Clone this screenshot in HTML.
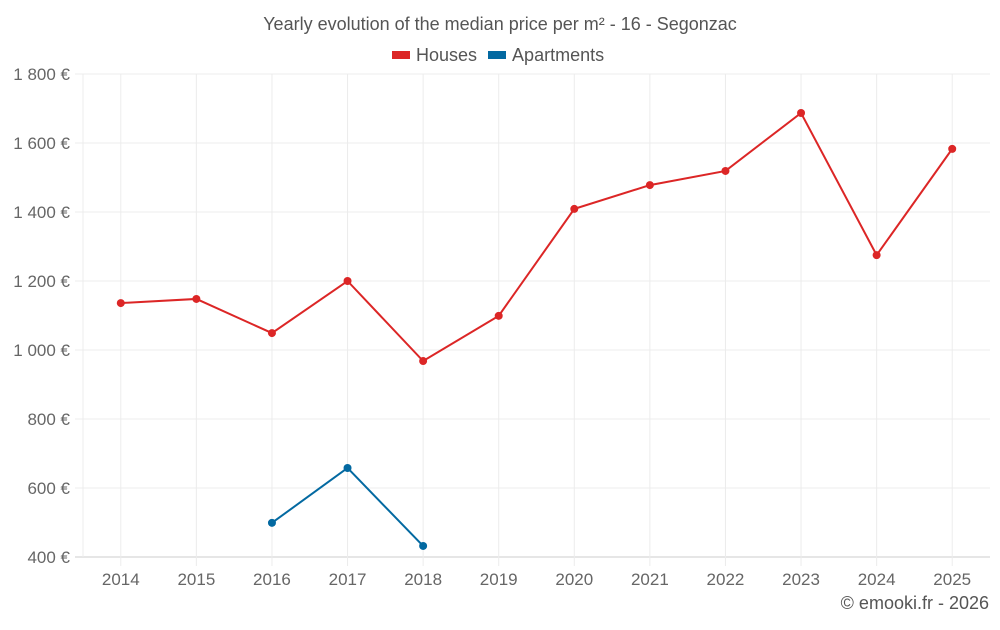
<!DOCTYPE html>
<html><head><meta charset="utf-8"><style>
body{margin:0;background:#fff;font-family:"Liberation Sans",sans-serif;}
svg text{font-family:"Liberation Sans",sans-serif;fill:#666;}
</style></head><body>
<svg id="c" width="1000" height="625"></svg>
<script>
const years=[2014,2015,2016,2017,2018,2019,2020,2021,2022,2023,2024,2025];
const houses=[1136,1148,1049,1200,968,1099,1409,1478,1519,1687,1275,1583];
const apartments=[null,null,499,658,432,null,null,null,null,null,null,null];
const yTicks=[400,600,800,1000,1200,1400,1600,1800];
const yTickLabels=["400 €","600 €","800 €","1 000 €","1 200 €","1 400 €","1 600 €","1 800 €"];
const L=83,R=990,T=74,B=557,yMin=400,yMax=1800;
const NS="http://www.w3.org/2000/svg";
const svg=document.getElementById('c');
function xs(i){return L+(R-L)*(i+0.5)/years.length;}
function ys(v){return B-(v-yMin)/(yMax-yMin)*(B-T);}
function mk(tag,attrs,parent){const e=document.createElementNS(NS,tag);for(const k in attrs)e.setAttribute(k,attrs[k]);(parent||svg).appendChild(e);return e;}
yTicks.forEach((v,i)=>{
 const g=mk('line',{x1:75,x2:R,y1:ys(v),y2:ys(v),stroke:v===yMin?'#ccc':'#ececec'});
 
 
 const t=mk('text',{x:70,y:ys(v)+6,'text-anchor':'end','font-size':17});
 t.textContent=yTickLabels[i];
 
 
});
years.forEach((y,i)=>{
 const g=mk('line',{x1:xs(i),x2:xs(i),y1:T,y2:B+9,stroke:'#ececec'});
 
 
 const t=mk('text',{x:xs(i),y:585,'text-anchor':'middle','font-size':17});
 t.textContent=y;
 
 
});
mk('line',{x1:L,x2:L,y1:T,y2:B,stroke:'#ececec'});
function series(vals,color,name){
 let d='';vals.forEach((v,i)=>{if(v==null)return;d+=(d?'L':'M')+xs(i)+','+ys(v);});
 const p=mk('path',{d:d,fill:'none',stroke:color,'stroke-width':2});
 
 
 vals.forEach((v,i)=>{if(v==null)return;
  const c=mk('circle',{cx:xs(i),cy:ys(v),r:4,fill:color});
  
  
 });
}
series(houses,'#dc2626','houses');
series(apartments,'#0369a1','apartments');
</script>
<div style="position:absolute;left:0;top:14px;width:1000px;text-align:center;font-size:18px;color:#555">Yearly evolution of the median price per m² - 16 - Segonzac</div>
<div style="position:absolute;left:392px;top:45px;font-size:18px;color:#555;white-space:nowrap">
<span><span style="display:inline-block;width:18px;height:8px;background:#dc2626;margin-right:6px;vertical-align:2px"></span>Houses</span>
<span style="margin-left:6px"><span style="display:inline-block;width:18px;height:8px;background:#0369a1;margin-right:6px;vertical-align:2px"></span>Apartments</span>
</div>
<div style="position:absolute;right:11px;top:593px;font-size:18px;color:#555">© emooki.fr - 2026</div>
</body></html>
